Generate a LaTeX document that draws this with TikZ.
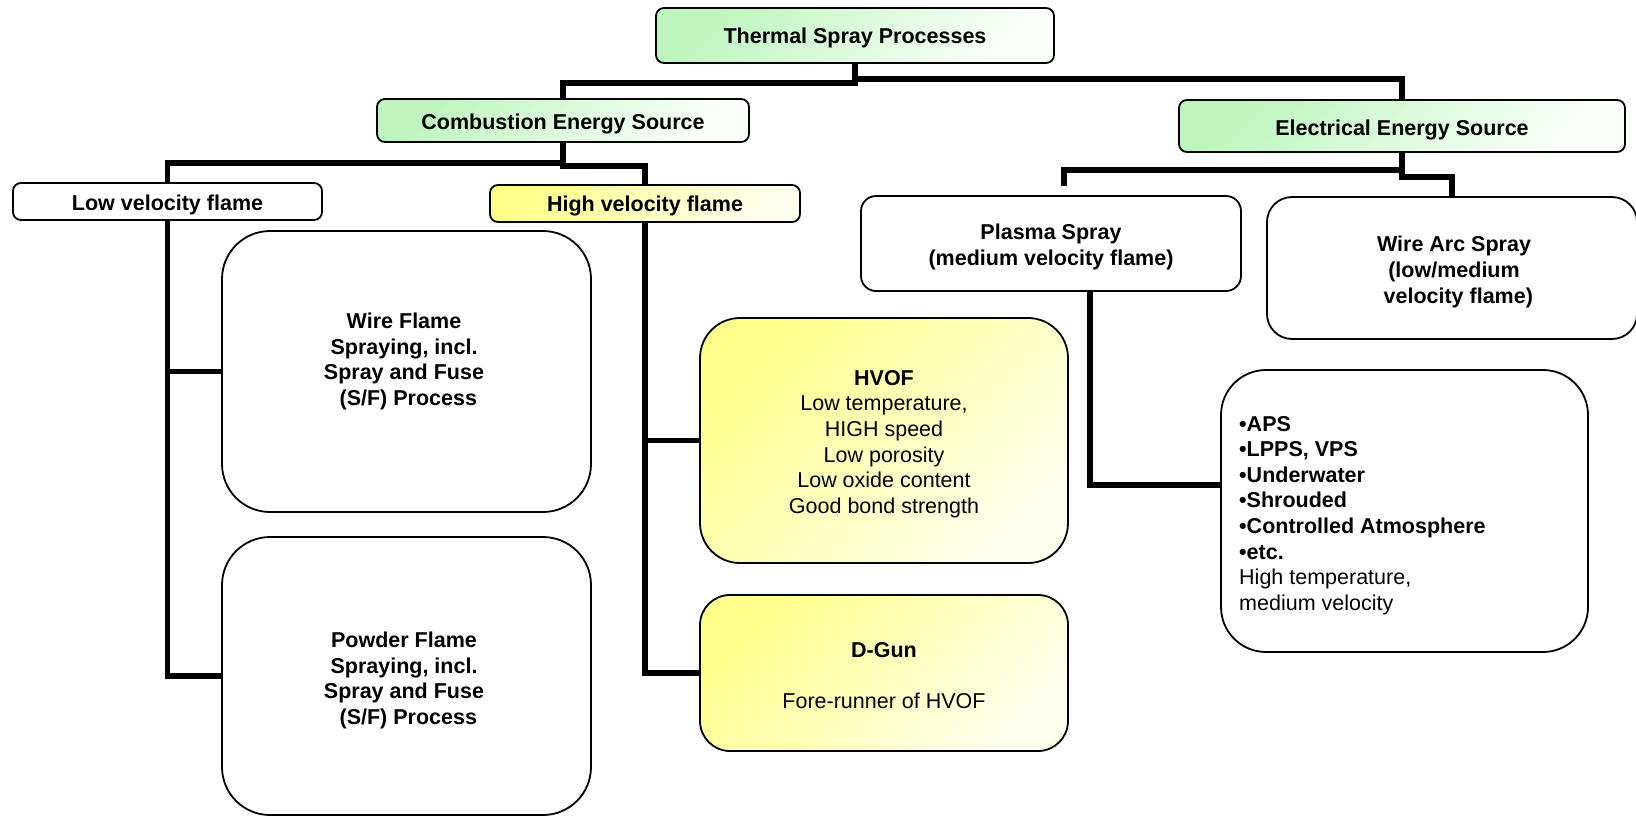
\documentclass[tikz,border=0pt]{standalone}
\usepackage{fontspec}
\setmainfont{Liberation Sans}
\definecolor{gA}{RGB}{190,245,190}
\definecolor{gB}{RGB}{250,255,250}
\definecolor{yA}{RGB}{255,255,140}
\definecolor{yB}{RGB}{255,255,238}
\begin{document}
\begin{tikzpicture}[x=1pt,y=-1pt, font=\fontsize{21.5pt}{25.6pt}\selectfont,
  box/.style={draw=black, line width=1.8pt, rounded corners=#1, inner sep=0pt},
  box/.default=8pt,
  gfill/.style={top color=gA, bottom color=gB, shading angle=45},
  yfill/.style={top color=yA, bottom color=yB, shading angle=45},
  wfill/.style={fill=white},
  conn/.style={line width=5.5pt, line join=miter},
  txt/.style={align=center, inner sep=0pt}
]
\useasboundingbox (0,0) rectangle (1636,817);

% boxes
\node[box, gfill, minimum width=398pt, minimum height=55pt] (tsp) at (855,35.5) {};
\node[box, gfill, minimum width=372pt, minimum height=43pt] (ces) at (563,120.5) {};
\node[box, gfill, minimum width=446pt, minimum height=52pt] (ees) at (1402,126) {};
\node[box, wfill, minimum width=309pt, minimum height=37pt] (lvf) at (167.5,201.5) {};
\node[box, yfill, minimum width=310pt, minimum height=37pt] (hvf) at (645,203.5) {};
\node[box=15pt, wfill, minimum width=380pt, minimum height=95pt] (plasma) at (1051,243.5) {};
\node[box=25pt, wfill, minimum width=370pt, minimum height=142pt] (was) at (1452,268) {};
\node[box=48pt, wfill, minimum width=369pt, minimum height=281pt] (wfs) at (406.5,371.5) {};
\node[box=48pt, wfill, minimum width=369pt, minimum height=278pt] (pfs) at (406.5,676) {};
\node[box=40pt, yfill, minimum width=368pt, minimum height=245pt] (hvof) at (884,440.5) {};
\node[box=30pt, yfill, minimum width=368pt, minimum height=156pt] (dgun) at (884,673) {};
\node[box=45pt, wfill, minimum width=367pt, minimum height=282pt] (list) at (1404.5,511) {};

% texts
\node[txt] (tspt) at (855,38) {\bfseries Thermal Spray Processes};
\node[txt] (cest) at (563,124) {\bfseries Combustion Energy Source};
\node[txt] (eest) at (1402,130) {\bfseries Electrical Energy Source};
\node[txt] (lvft) at (167.5,204.5) {\bfseries Low velocity flame};
\node[txt] (hvft) at (645,206) {\bfseries High velocity flame};
\node[txt] (plasmat) at (1051,247) {\bfseries Plasma Spray\\\bfseries (medium velocity flame)};
\node[txt] (wast) at (1454,272) {\bfseries Wire Arc Spray\\\bfseries (low/medium\\\bfseries \hspace*{0.4em}velocity flame)};
\node[txt] (wfst) at (404,361.5) {\bfseries Wire Flame\\\bfseries Spraying, incl.\\\bfseries Spray and Fuse\\\bfseries \hspace*{0.4em}(S/F) Process};
\node[txt] (pfst) at (404,680.5) {\bfseries Powder Flame\\\bfseries Spraying, incl.\\\bfseries Spray and Fuse\\\bfseries \hspace*{0.4em}(S/F) Process};
\node[txt] (hvoft) at (884,444) {\bfseries HVOF\\Low temperature,\\HIGH speed\\Low porosity\\Low oxide content\\Good bond strength};
\node[txt] (dgunt) at (884,675.5) {\bfseries D-Gun\\[25.6pt]Fore-runner of HVOF};
\node[txt, align=left, anchor=west] (listt) at (1239,515.5) {\bfseries •APS\\\bfseries •LPPS, VPS\\\bfseries •Underwater\\\bfseries •Shrouded\\\bfseries •Controlled Atmosphere\\\bfseries •etc.\\High temperature,\\medium velocity};

\coordinate (pend) at (1064,186);

% connectors
\draw[conn] (tsp.south) -- (tsp.south |- 0,83) -| (ces.north);
\draw[conn] (tsp.south |- 0,79) -| (ees.north);
\draw[conn] (ces.south) -- (ces.south |- 0,166) -| (hvf.north);
\draw[conn] (ces.south |- 0,163) -| (lvf.north);
\draw[conn] (lvf.south) |- (pfs.west);
\draw[conn] (lvf.south |- wfs.west) -- (wfs.west);
\draw[conn] (hvf.south) |- (dgun.west);
\draw[conn] (hvf.south |- hvof.west) -- (hvof.west);
\draw[conn] (ees.south) -- (ees.south |- 0,177) -| (was.north);
\draw[conn] (ees.south |- 0,170) -| (pend);
\draw[conn] (plasma.south -| 1090,0) |- (list.west |- 0,485);
\end{tikzpicture}
\end{document}
